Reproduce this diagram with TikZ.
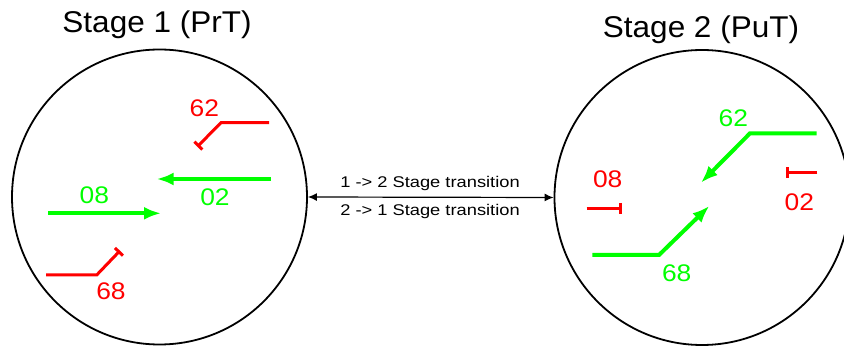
\documentclass[tikz,border=0pt]{standalone}
\usepackage{fontspec}
\setmainfont{Liberation Sans}
\usetikzlibrary{arrows.meta,positioning}
\definecolor{okgreen}{RGB}{0,255,0}
\definecolor{blockred}{RGB}{255,0,0}
\def\R{147.5}

\begin{document}
\begin{tikzpicture}[x=1pt,y=-1pt,
    stagecircle/.style={draw=black,line width=1.8pt,circle,inner sep=0pt,minimum size=2*\R pt},
    stagetitle/.style={anchor=base,inner sep=0pt,font=\fontsize{30}{30}\selectfont,xscale=1.05},
    translabel/.style={inner sep=0pt,font=\fontsize{15.5}{16}\selectfont,xscale=1.18},
    movelabel/.style={inner sep=0pt,font=\fontsize{24}{24}\selectfont,xscale=1.1},
    go/.style={draw=okgreen,line width=4pt,-{Latex[length=17pt,width=13pt]}},
    stop/.style={draw=blockred,line width=3pt,-{Bar[width=11pt]}}]
\useasboundingbox (0,0) rectangle (844,347);
% the two stages
\node[stagecircle] (s1) at (159.5,197) {};
\node[stagecircle] (s2) at (702,197.5) {};
\node[stagetitle] (t1) at (157,32.3) {Stage 1 (PrT)};
\node[stagetitle] (t2) at (701,37.3) {Stage 2 (PuT)};
% transition between the stages
\draw[line width=1.2pt,{Latex[length=9pt,width=8pt]}-{Latex[length=9pt,width=8pt]}] (s1.east) -- (s2.west);
\node[translabel] (up) at (430,183.5) {1 -> 2 Stage transition};
\node[translabel] (down) at (430,211.5) {2 -> 1 Stage transition};
% stage 1 movements
\draw[stop] (269,122.7) -- (221,122.7) -- (197.3,146.7);
\draw[go] (271,179) -- (156.7,179);
\draw[go] (48.3,213.3) -- (161,213.3);
\draw[stop] (46,275) -- (96.7,275) -- (120,250.7);
\node[movelabel,text=blockred] (p62) at (204.3,108.3) {62};
\node[movelabel,text=okgreen] (p02) at (215,197) {02};
\node[movelabel,text=okgreen] (p08) at (94.3,195) {08};
\node[movelabel,text=blockred] (p68) at (111,291.7) {68};
% stage 2 movements
\draw[go] (816.7,133.3) -- (750,133.3) -- (701,182.7);
\draw[stop] (817.3,172.7) -- (785.7,172.7);
\draw[stop] (586.7,208.3) -- (621.7,208.3);
\draw[go] (592.3,255) -- (659,255) -- (709.3,206);
\node[movelabel,text=okgreen] (q62) at (733.3,118.3) {62};
\node[movelabel,text=blockred] (q02) at (799.3,202.7) {02};
\node[movelabel,text=blockred] (q08) at (607.7,179) {08};
\node[movelabel,text=okgreen] (q68) at (676.7,273.3) {68};
\end{tikzpicture}
\end{document}
